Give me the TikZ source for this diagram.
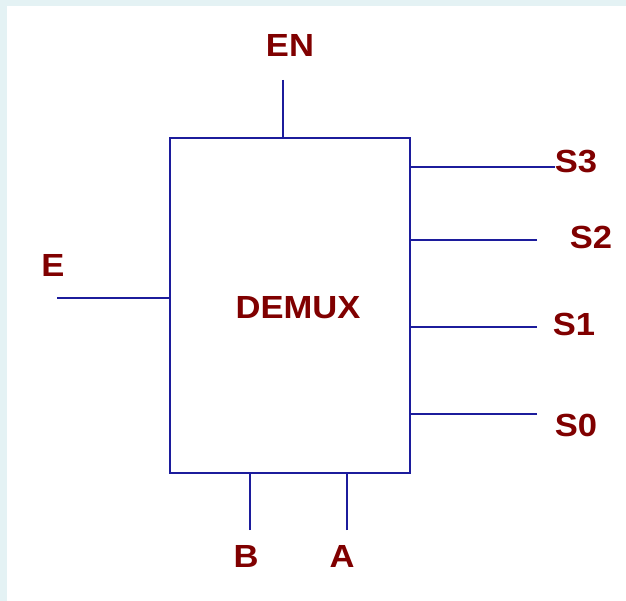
\documentclass[tikz,border=0pt]{standalone}
\usepackage{fontspec}
\setmainfont[FakeStretch=1.08]{Liberation Sans}
\definecolor{pinblue}{RGB}{28,28,156}
\definecolor{labelred}{RGB}{128,0,0}
\definecolor{framecyan}{RGB}{228,242,244}
\tikzstyle{pin}=[line width=2pt, draw=pinblue]
\tikzstyle{lbl}=[text=labelred, font=\fontsize{32}{32}\selectfont\bfseries, inner sep=0pt]

\begin{document}
\begin{tikzpicture}[x=1pt,y=-1pt]
				\fill[framecyan] (0,0) rectangle (626,601);
				\fill[white] (7,6) rectangle (626,601);
				\useasboundingbox (0,0) rectangle (626,601);

				\node[pin, minimum width=240pt, minimum height=335pt, inner sep=0pt] (demux) at (290,305.5) {};
				\node[lbl] (title) at (298,308) {DEMUX};

				\coordinate (en) at (283,80);
				\coordinate (e) at (57,298);
				\coordinate (s3) at (555,167);
				\coordinate (s2) at (537,240);
				\coordinate (s1) at (537,327);
				\coordinate (s0) at (537,414);
				\coordinate (b) at (250,530);
				\coordinate (a) at (347,530);

				\draw[pin] (en) -- (en |- demux.north);
				\draw[pin] (e) -- (e -| demux.west);
				\draw[pin] (s3) -- (s3 -| demux.east);
				\draw[pin] (s2) -- (s2 -| demux.east);
				\draw[pin] (s1) -- (s1 -| demux.east);
				\draw[pin] (s0) -- (s0 -| demux.east);
				\draw[pin] (b) -- (b |- demux.south);
				\draw[pin] (a) -- (a |- demux.south);

				\node[lbl] (enlbl) at (290,45) {EN};
				\node[lbl] (elbl) at (53,265) {E};
				\node[lbl] (s3lbl) at (576,162) {S3};
				\node[lbl] (s2lbl) at (591,237) {S2};
				\node[lbl] (s1lbl) at (574,324) {S1};
				\node[lbl] (s0lbl) at (576,425) {S0};
				\node[lbl] (blbl) at (246,556) {B};
				\node[lbl] (albl) at (342,556) {A};
			\end{tikzpicture}
\end{document}
